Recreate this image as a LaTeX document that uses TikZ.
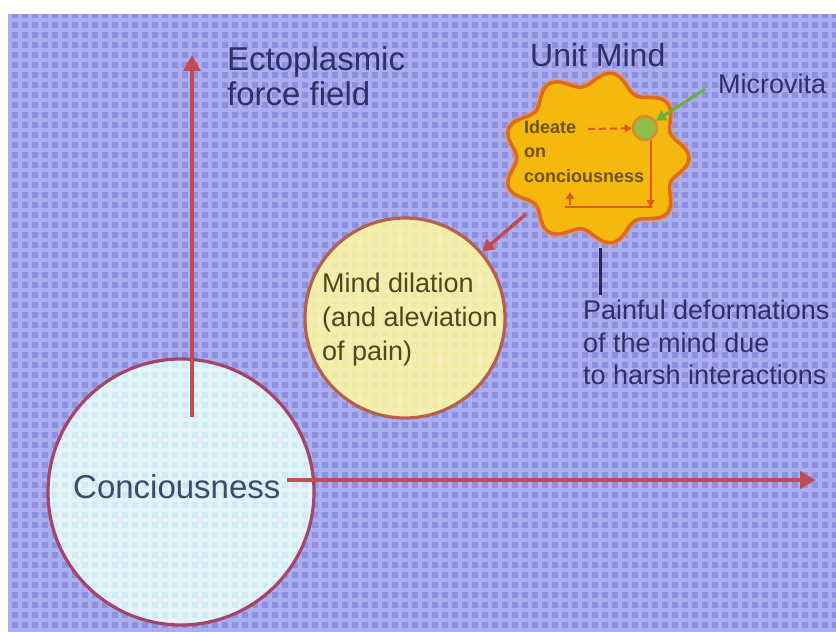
\documentclass[tikz,border=0pt]{standalone}
\usepackage{fontspec}
\setmainfont{Liberation Sans}
\usetikzlibrary{arrows.meta}
\definecolor{bgblue}{HTML}{8E90DD}
\definecolor{gridcol}{HTML}{AAADF0}
\definecolor{navytext}{HTML}{2F3068}
\definecolor{constext}{HTML}{3C4C6A}
\definecolor{mindtext}{HTML}{4A4A1E}
\definecolor{ideatetext}{HTML}{6E5410}
\definecolor{arrred}{HTML}{C44A52}
\definecolor{bigfill}{HTML}{CFEAF3}
\definecolor{bigborder}{HTML}{A3456A}
\definecolor{mindfill}{HTML}{F4EBA2}
\definecolor{mindborder}{HTML}{B5604E}
\definecolor{cloudfill}{HTML}{F5B80E}
\definecolor{cloudborder}{HTML}{DE6A1E}
\definecolor{microfill}{HTML}{8DBE46}
\definecolor{microborder}{HTML}{D98A2A}
\definecolor{greenarr}{HTML}{6DB040}
\definecolor{loopcol}{HTML}{E0581E}
\definecolor{darkline}{HTML}{2A2A5A}
\tikzset{
  redarrow/.style={draw=arrred, line width=3.5pt, -{Triangle[length=16pt,width=17pt]}},
  smallredarrow/.style={draw=arrred, line width=3.5pt, -{Triangle[length=12pt,width=13pt]}},
  greenarrow/.style={draw=greenarr, line width=3pt, -{Triangle[length=10pt,width=11pt]}},
  dasharrow/.style={draw=loopcol, line width=2pt, dash pattern=on 7pt off 4pt, -{Triangle[length=7pt,width=8pt]}},
  loopline/.style={draw=loopcol, line width=2.2pt},
  looparrow/.style={draw=loopcol, line width=2.2pt, -{Triangle[length=7pt,width=8pt]}},
  lbl/.style={inner sep=0pt, align=left, anchor=north west},
}
\begin{document}
\begin{tikzpicture}[x=1pt,y=-1pt]
\useasboundingbox (0,0) rectangle (836,632);
\fill[white] (0,0) rectangle (836,632);
\fill[bgblue] (9,14) rectangle (836,632);
\draw[gridcol, line width=3.5pt, step=10pt] (9,14) grid (836,632);

% big circle
\node[circle, fill=bigfill, minimum size=266pt, inner sep=0pt] (cons) at (181,492) {};
\begin{scope}
  \clip (181,492) circle[radius=133];
  \draw[white, opacity=0.45, line width=3.5pt, step=10pt] (40,350) grid (330,630);
\end{scope}
\node[circle, draw=bigborder, line width=3.2pt, minimum size=266pt, inner sep=0pt] (consring) at (181,492) {};

% mind dilation circle
\node[circle, fill=mindfill, minimum size=200pt, inner sep=0pt] (mind) at (405,318) {};
\begin{scope}
  \clip (405,318) circle[radius=100];
  \draw[white, opacity=0.18, line width=3.5pt, step=10pt] (300,210) grid (510,420);
\end{scope}
\node[circle, draw=mindborder, line width=3.2pt, minimum size=200pt, inner sep=0pt] (mindring) at (405,318) {};

% unit mind cloud
\coordinate (cloud) at (596,158);
\draw[cloudborder!70, line width=7pt, opacity=0.6] plot[smooth cycle, samples=72, domain=0:355]
  ({596+(86+7*cos(9*\x))*cos(\x)}, {158+(79+7*cos(9*\x))*sin(\x)});
\draw[fill=cloudfill, draw=cloudborder, line width=3.5pt] plot[smooth cycle, samples=72, domain=0:355]
  ({596+(86+7*cos(9*\x))*cos(\x)}, {158+(79+7*cos(9*\x))*sin(\x)});

% texts
\node[lbl, font=\fontsize{33}{35}\selectfont, text=navytext] (ecto) at (227,46) {Ectoplasmic\\force field};
\node[lbl, font=\fontsize{32}{34}\selectfont, text=navytext] (unit) at (530,43) {Unit Mind};
\node[lbl, font=\fontsize{27}{30}\selectfont, text=navytext] (microtxt) at (718,74) {Microvita};
\node[lbl, font=\fontsize{27}{32.5}\selectfont, text=navytext] (painful) at (583,300) {Painful deformations\\of the mind due\\to harsh interactions};
\node[lbl, font=\fontsize{27}{34}\selectfont, text=mindtext] (mindtxt) at (322,273) {Mind dilation\\(and aleviation\\of pain)};
\node[inner sep=0pt, anchor=base west, font=\fontsize{33}{36}\selectfont, text=constext] (constxt) at (73,498) {Conciousness};
\node[lbl, font=\bfseries\fontsize{18}{24.5}\selectfont, text=ideatetext] (ideate) at (524,120) {Ideate\\on\\conciousness};

% microvita circle
\node[circle, fill=microfill, draw=microborder, line width=2.5pt, minimum size=24pt, inner sep=0pt] (micro) at (645,128) {};

% arrows
\coordinate (vstart) at (192,417);
\coordinate (vend) at (192,55);
\draw[redarrow] (vstart) -- (vend);
\coordinate (hstart) at (287,480);
\coordinate (hend) at (816,480);
\draw[redarrow] (hstart) -- (hend);
\coordinate (mstart) at (526,214);
\draw[smallredarrow] (mstart) -- (mindring);

\coordinate (mvtail) at (705,89);
\draw[greenarrow] (mvtail) -- (micro);
\coordinate (idA) at (588,129);
\draw[dasharrow] (idA) -- (micro);

\coordinate (loopC) at (652,207);
\coordinate (loopL) at (565,207);
\coordinate (loopUp) at (570,205);
\coordinate (loopE) at (570,192);
\draw[looparrow] (micro.-65) -- (micro.-65 |- loopC);
\draw[loopline] (loopC) -- (loopL);
\draw[looparrow] (loopUp) -- (loopE);

\coordinate (pdTop) at (600,248);
\coordinate (pdBot) at (600,295);
\draw[darkline, line width=3pt] (pdTop) -- (pdBot);
\end{tikzpicture}
\end{document}
